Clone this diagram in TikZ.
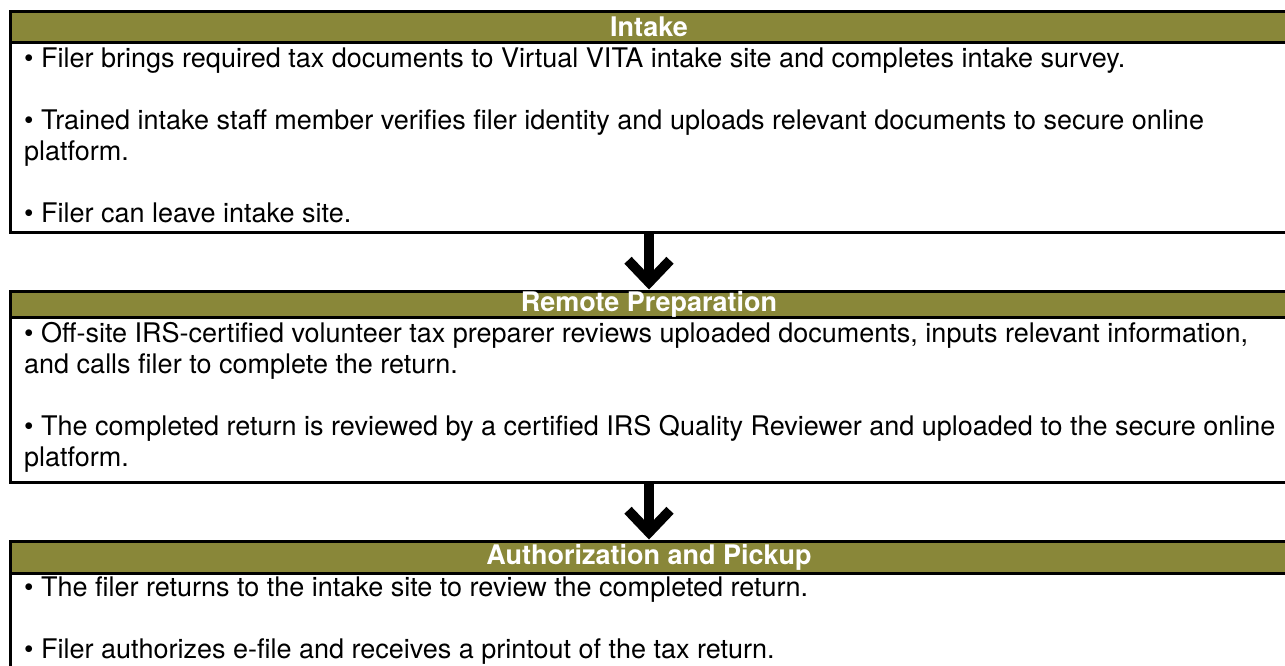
\documentclass[tikz,border=0pt]{standalone}
\usepackage{fontspec}
\setmainfont{TeX Gyre Heros}
\usetikzlibrary{arrows.meta, positioning}
\definecolor{hdrolive}{RGB}{137,135,57}
\tikzstyle{frame} = [rectangle, draw=black, line width=3pt, minimum width=1278pt, inner sep=0pt]
\tikzstyle{header} = [frame, fill=hdrolive, text=white, font=\bfseries\fontsize{27}{31}\selectfont]
\tikzstyle{body} = [anchor=base west, align=left, inner sep=0pt, font=\fontsize{27}{31}\selectfont]
\tikzstyle{line} = [draw, line width=10pt, -{Straight Barb[sharp, length=22pt, width=42pt]}]

\begin{document}
\begin{tikzpicture}[x=1pt, y=-1pt]
        \useasboundingbox[fill=white] (0,0) rectangle (1285,665);

        % boxes
        \node[frame, minimum height=221pt] (box1) at (649,121.5) {};
        \node[frame, minimum height=191pt] (box2) at (649,386.5) {};
        \node[frame, minimum height=139pt] (box3) at (649,610.5) {};

        % headers
        \node[header, minimum height=31pt] (intake) at (649,26.5) {Intake};
        \node[header, minimum height=26pt] (prep) at (649,304) {Remote Preparation};
        \node[header, minimum height=32pt] (pickup) at (649,557) {Authorization and Pickup};

        % text (base = last line)
        \node[body] (intaketext) at (24,222) {• Filer brings required tax documents to Virtual VITA intake site and completes intake survey.\\[31pt]
            • Trained intake staff member verifies filer identity and uploads relevant documents to secure online\\
            platform.\\[31pt]
            • Filer can leave intake site.};
        \node[body] (preptext) at (24,466) {• Off-site IRS-certified volunteer tax preparer reviews uploaded documents, inputs relevant information,\\
            and calls filer to complete the return.\\[31pt]
            • The completed return is reviewed by a certified IRS Quality Reviewer and uploaded to the secure online\\
            platform.};
        \node[body] (pickuptext) at (24,658) {• The filer returns to the intake site to review the completed return.\\[31pt]
            • Filer authorizes e-file and receives a printout of the tax return.};

        % arrows
        \path[line] (box1.south) -- (prep.north);
        \path[line] (box2.south) -- (pickup.north);
\end{tikzpicture}
\end{document}
